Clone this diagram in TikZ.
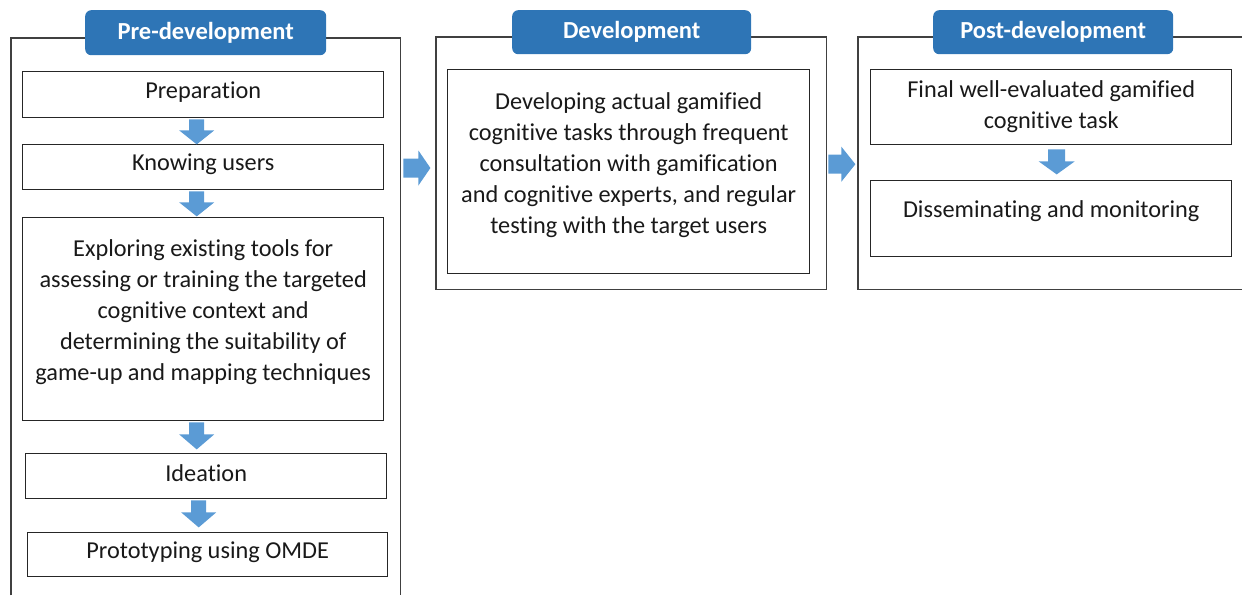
\documentclass[tikz,border=0pt]{standalone}
\usepackage{fontspec}
\setmainfont{Carlito}[Ligatures=NoCommon]
\usetikzlibrary{calc}
\definecolor{hdrblue}{HTML}{2E75B6}
\definecolor{arrblue}{HTML}{5B9BD5}
\definecolor{framegray}{HTML}{404040}

\begin{document}
\begin{tikzpicture}[x=1pt,y=-1pt,
  stageframe/.style={draw=framegray, line width=1.4pt},
  phantombox/.style={draw=none, inner sep=0pt, anchor=north west},
  hdr/.style={fill=hdrblue, rounded corners=6pt, text=white, inner sep=0pt,
    anchor=north west, font=\fontsize{24.5}{28}\selectfont\bfseries},
  stepbox/.style={draw=black!85, line width=1.4pt, inner sep=0pt, anchor=north west},
  txt/.style={align=center, inner sep=0pt, text=black!90, font=\fontsize{24.3}{31}\selectfont},
  pics/downarr/.style n args={4}{code={
    \fill[arrblue] (-#1,0) -- (#1,0) -- (#1,#3) -- (#2,#3) -- (0,#4)
      -- (-#2,#3) -- (-#1,#3) -- cycle;}},
  pics/rightarr/.style n args={4}{code={
    \fill[arrblue] (0,-#1) -- (0,#1) -- (#3,#1) -- (#3,#2) -- (#4,0)
      -- (#3,-#2) -- (#3,-#1) -- cycle;}},
]
\useasboundingbox (0,0) rectangle (1242,595);

% ---------- stage frames ----------
\node[phantombox, minimum width=389pt, minimum height=557pt] (pre) at (11,38) {};
\draw[stageframe] (pre.south west) -- (pre.north west) -- (pre.north east) -- (pre.south east);

\node[phantombox, minimum width=390pt, minimum height=252pt] (dev) at (436,37) {};
\draw[stageframe] (dev.south west) rectangle (dev.north east);

\node[phantombox, minimum width=390pt, minimum height=252pt] (post) at (858,37) {};
\draw[stageframe] (post.north east) -- (post.north west) -- (post.south west) -- (post.south east);

% ---------- stage headers ----------
\node[hdr, minimum width=241pt, minimum height=45pt] (hpre)  at (85,10)  {Pre-development};
\node[hdr, minimum width=239pt, minimum height=44pt] (hdev)  at (512,10) {Development};
\node[hdr, minimum width=240pt, minimum height=44pt] (hpost) at (933,10) {Post-development};

% ---------- pre-development steps ----------
\node[stepbox, minimum width=361pt, minimum height=46pt]  (prep) at (22,71)  {};
\node[txt] at ($(prep.center)+(0,-3)$) {Preparation};

\node[stepbox, minimum width=361pt, minimum height=45pt]  (know) at (22,144) {};
\node[txt] at ($(know.center)+(0,-3)$) {Knowing users};

\node[stepbox, minimum width=361pt, minimum height=203pt] (expl) at (22,217) {};
\node[txt] at ($(expl.center)+(0,-7)$) {Exploring existing tools for\\
  assessing or training the targeted\\ cognitive context and\\
  determining the suitability of\\ game-up and mapping techniques};

\node[stepbox, minimum width=361pt, minimum height=45pt]  (idea) at (25,453) {};
\node[txt] at ($(idea.center)+(0,-3)$) {Ideation};

\node[stepbox, minimum width=360pt, minimum height=44pt]  (proto) at (27,532) {};
\node[txt] at ($(proto.center)+(0,-2)$) {Prototyping using OMDE};

% ---------- development step ----------
\node[stepbox, minimum width=362pt, minimum height=204pt] (devtask) at (447,69) {};
\node[txt] at ($(devtask.center)+(0,-7)$) {Developing actual gamified\\
  cognitive tasks through frequent\\ consultation with gamification\\
  and cognitive experts, and regular\\ testing with the target users};

% ---------- post-development steps ----------
\node[stepbox, minimum width=361pt, minimum height=75pt] (final) at (870,69) {};
\node[txt] at ($(final.center)+(0,-1)$) {Final well-evaluated gamified\\ cognitive task};

\node[stepbox, minimum width=361pt, minimum height=76pt] (dissem) at (870,180) {};
\node[txt] at ($(dissem.center)+(0,-8)$) {Disseminating and monitoring};

% ---------- flow arrows ----------
\pic at ($(prep.south)+(-6.5,1)$)  {downarr={7.5}{17.5}{11}{25}};
\pic at ($(know.south)+(-6.5,1)$)  {downarr={7.5}{17.5}{11}{25}};
\pic at ($(expl.south)+(-6.5,1)$)  {downarr={7.5}{17.5}{12}{27}};
\pic at ($(idea.south)+(-7.5,1)$)  {downarr={7.5}{17.5}{12}{27}};
\pic at ($(final.south)+(5.5,4)$)  {downarr={8.5}{18}{12}{25}};

\pic at ($(pre.north east)+(3,130)$) {rightarr={9.5}{17.5}{15}{27}};
\pic at ($(dev.east)+(2,1)$)         {rightarr={9.5}{17.5}{13}{27}};
\end{tikzpicture}
\end{document}
